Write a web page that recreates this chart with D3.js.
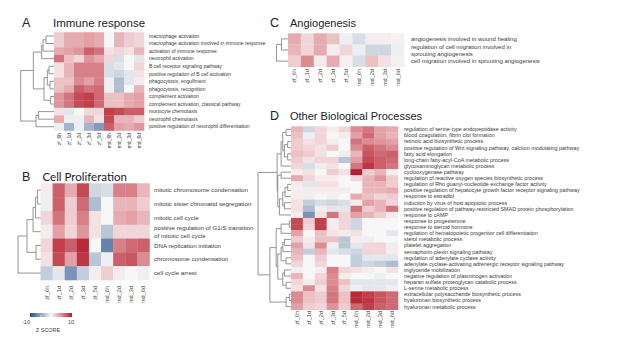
<!DOCTYPE html>
<html>
<head>
<meta charset="utf-8">
<script src="https://cdn.jsdelivr.net/npm/d3@7"></script>
<style>
  body { margin: 0; background: #fff; }
  svg { display: block; }
  text { font-family: "Liberation Sans", Arial, sans-serif; fill: #333; }
</style>
</head>
<body>
<svg id="chart" width="617" height="350"></svg>
<script>
// sample columns shared by every heatmap
const samples = ["zf_6h", "zf_1d", "zf_2d", "zf_3d", "zf_5d", "md_6h", "md_2d", "md_3d", "md_6d"];

// A) Immune response
const immuneTerms = [
  "macrophage activation",
  "macrophage activation involved in immune response",
  "activation of immune response",
  "neutrophil activation",
  "B cell receptor signaling pathway",
  "positive regulation of B cell activation",
  "phagocytosis, engulfment",
  "phagocytosis, recognition",
  "complement activation",
  "complement activation, classical pathway",
  "monocyte chemotaxis",
  "neutrophil chemotaxis",
  "positive regulation of neutrophil differentiation"
];
const immuneZ = [
  [2, 3.5, 3.5, 4, 3.5, 0, 3, 2, 1.5],
  [2, 3.5, 3.5, 4, 3.5, 0, 3, 2, 1.5],
  [3.5, 4, 4.5, 7, 6, 1, 1.5, 1, 3],
  [6, 2.5, 1.5, 4.5, 3.5, 1.5, -1.5, 0, -1],
  [1, 3, 5.5, 5.5, 5.5, -1.5, -1, 0, 1.5],
  [1, 3, 5.5, 5.5, 5.5, -1.5, -2, -1, 1],
  [2.5, 2.5, 5, 4, 5.5, -0.5, -3.5, -1, 0.5],
  [2.5, 3.5, 7, 6, 6.5, -0.5, -3.5, 0, 3],
  [4.5, 6, 8, 8.5, 6.5, 2.5, 2.5, 3.5, 4],
  [4.5, 6, 8, 8.5, 6.5, 2.5, 2.5, 3.5, 4],
  [1, -1, 0, 1.5, 1.5, 8.5, 8, 7, 7],
  [3.5, -0.5, -0.5, 3, 1, 8, 3, 3, 2],
  [-0.5, -4, -0.5, -4, -5.5, 7, 4, 3.5, 4.5]
];

// B) Cell proliferation
const prolifTerms = [
  "mitotic chromosome condensation",
  "mitotic sister chromatid segregation",
  "mitotic cell cycle",
  "positive regulation of G1/S transition\nof mitotic cell cycle",
  "DNA replication initiation",
  "chromosome condensation",
  "cell cycle arrest"
];
const prolifZ = [
  [0.5, 7, 3.5, 8, -2, -1.5, 5.5, 5.5, 3],
  [-0.5, 7, 2, 6.5, -3.5, 0, 3, 3, 2],
  [1.5, 6, 2, 5.5, 1, 0, 3.5, 4, 3],
  [0.5, 4, 1.5, 4.5, 1, -3, 1.5, 1.5, 1.5],
  [1.5, 8.5, 7, 9.5, 0, -7, 5.5, 6.5, 7],
  [1, 8, 4, 9, -3, -0.5, 7, 7.5, 5],
  [-2.5, -1, -6, -2.5, 0.5, 2, 0.5, 0, -0.5]
];

// C) Angiogenesis
const angioTerms = [
  "angiogenesis involved in wound healing",
  "regulation of cell migration involved in\nsprouting angiogenesis",
  "cell migration involved in sprouting angiogenesis"
];
const angioZ = [
  [3.5, 1.5, 3.5, 2.5, -0.5, -1.5, 0.5, 0.5, 0.3],
  [3, 1.5, 3.5, 0.5, 1.5, -0.5, -2, -2, -0.5],
  [2, 5, 0.5, 3.5, 0.3, -1.5, 2.5, 1, 0.3]
];

// D) Other biological processes
const otherTerms = [
  "regulation of serine-type endopeptidase activity",
  "blood coagulation, fibrin clot formation",
  "retinoic acid biosynthetic process",
  "positive regulation of Wnt signaling pathway, calcium modulating pathway",
  "fatty acid elongation",
  "long-chain fatty-acyl-CoA metabolic process",
  "glycosaminoglycan metabolic process",
  "cyclooxygenase pathway",
  "regulation of reactive oxygen species biosynthetic process",
  "regulation of Rho guanyl-nucleotide exchange factor activity",
  "positive regulation of hepatocyte growth factor receptor signaling pathway",
  "response to estradiol",
  "induction by virus of host apoptotic process",
  "positive regulation of pathway-restricted SMAD protein phosphorylation",
  "response to cAMP",
  "response to progesterone",
  "response to steroid hormone",
  "regulation of hematopoietic progenitor cell differentiation",
  "sterol metabolic process",
  "platelet aggregation",
  "semaphorin-plexin signaling pathway",
  "regulation of adenylate cyclase activity",
  "adenylate cyclase-activating adrenergic receptor signaling pathway",
  "triglyceride mobilization",
  "negative regulation of plasminogen activation",
  "heparan sulfate proteoglycan catabolic process",
  "L-serine metabolic process",
  "extracellular polysaccharide biosynthetic process",
  "hyaluronan biosynthetic process",
  "hyaluronan metabolic process"
];
const otherZ = [
  [3, -2, 1.5, 0.5, 1.5, 5, 6, 4, 3.5],
  [2.5, -0.5, 1.5, 0, 0.5, 4, 6.5, 4, 3],
  [2, 1, 1.5, 0.5, 0, 6, 5, 4.5, 4],
  [2, 1.5, 1, 2, 0, 5, 7, 6, 5],
  [2.5, 2, 1, 0, 0.5, 3, 7.5, 6.5, 7],
  [2, 1, 1.5, 1.5, -3, 4, 8, 7, 6.5],
  [1.5, -1.5, 0.5, 1, 0, 6, 9, 7, 6],
  [0.5, 1, 0, 2, 1, 10, 2, 3, 0.5],
  [3.5, 1.5, 0.5, 0.5, 0, 1.5, 3, 4.5, 2],
  [0.5, -1, 1, 1, 0, 0, 3, 3, 2],
  [0.5, 0.5, 0.5, 0.5, 0.5, 0, 3, 3, 3.5],
  [0.5, 0.5, 0, 0.5, 0, 3.5, 2.5, 1.5, 2],
  [1, -2.5, -1.5, -2, -1.5, 0.5, 4, 3, 1.5],
  [1, -3.5, 0.5, -1, -1, 6, 2, 3, 6],
  [0.5, -6, 1, 6, 1.5, 4, 3, 2, 0.5],
  [8, 2, 8.5, 0.5, 1.5, -2, 0, 0, 0],
  [8, 1.5, 8.5, 0.5, 1.5, -2, 0, 0, 0],
  [4, 0, 2.5, 1, 0.5, 1, 0, 0, -1],
  [2, 0.5, 2.5, 2.5, -3, 0.5, -0.5, 0, 0],
  [4, 1, 5, -0.5, -3, -1, 1.5, 1.5, 0.5],
  [3, -2.5, 3, -1, -1.5, -2, 1.5, 1.5, 0.5],
  [2.5, 0, 2, 0, 0, -2.5, -1, -1, -1],
  [1.5, 0, 1.5, 0, 0, -2.5, -2, -2.5, -3.5],
  [0.5, 0, 0.5, 5.5, 1.5, 1, 0.5, 0, 1],
  [3, 0, 1.5, 5, 0.5, 0, 0, -0.5, 0],
  [1.5, 0.5, 2, 5, 2.5, -1, -1, -1, -1],
  [1, 5, 1, 5.5, 1.5, -0.5, -1, -1, -0.5],
  [5, 2.5, 2, 6, 2.5, 9.5, 8.5, 7.5, 6.5],
  [5, 2.5, 2, 6, 2.5, 9.5, 9, 7.5, 6.5],
  [4, 2, 1.5, 4.5, 2, 6.5, 8.5, 7, 6.5]
];

// row dendrograms: N(height, ...children), leaves are row indices
const N = (h, ...c) => ({ h, c });
const immuneTree = N(1,
  N(0.62,
    N(0.37, N(0.33, N(0.24, 0, 1), 2), 3),
    N(0.3, N(0.2, N(0.15, 4, 5), N(0.12, 6, 7)), N(0.1, 8, 9))),
  N(0.54, N(0.47, 10, 11), 12));
const prolifTree = N(1,
  N(0.6, N(0.33, N(0.22, N(0.13, 0, 1), 2), 3), N(0.2, 4, 5)),
  6);
const angioTree = N(1, N(0.57, 0, 1), 2);
const otherTree = N(1,
  N(0.42,
    N(0.3, N(0.25, N(0.15, 0, 1), N(0.2, N(0.1, 2, 3), N(0.1, 4, 5))), 6),
    N(0.4, N(0.3, 7, 8),
      N(0.35, N(0.25, N(0.18, N(0.1, 9, 10), 11), N(0.2, 12, 13)), 14))),
  N(0.64,
    N(0.45,
      N(0.3, N(0.05, 15, 16), 17),
      N(0.4,
        N(0.3, N(0.25, N(0.2, 18, 19), 20), N(0.15, 21, 22)),
        N(0.25, N(0.2, 23, 24), N(0.15, 25, 26)))),
    N(0.15, N(0.05, 27, 28), 29)));

const svg = d3.select("#chart");
const color = d3.scaleLinear()
  .domain([-10, 0, 4, 10])
  .range(["#24528a", "#f8f7f7", "#e3a0a6", "#b41f2d"])
  .clamp(true);

function drawPanel(p) {
  const g = svg.append("g");
  const x = d3.scaleBand().domain(samples).range([p.x0, p.x1]);
  const y = d3.scaleBand().domain(d3.range(p.terms.length)).range([p.y0, p.y1]);

  // titles
  g.append("text").attr("x", p.letterX).attr("y", p.titleY)
    .style("font-size", "12.5px").style("fill", "#222").text(p.letter);
  g.append("text").attr("x", p.titleX).attr("y", p.titleY)
    .style("font-size", p.titleSize + "px").style("fill", "#222")
    .style("font-family", p.titleFont || null)
    .text(p.title);

  // cells
  const cells = p.z.flatMap((row, r) => row.map((v, c) => ({ r, c, v })));
  g.selectAll("rect.cell").data(cells).enter().append("rect")
    .attr("class", "cell")
    .attr("x", d => x(samples[d.c]))
    .attr("y", d => y(d.r))
    .attr("width", x.bandwidth() + 0.3)
    .attr("height", y.bandwidth() + 0.3)
    .attr("fill", d => color(d.v));

  // row labels
  const rl = g.selectAll("text.row").data(p.terms).enter().append("text")
    .attr("class", "row")
    .attr("x", p.x1 + p.gap)
    .attr("y", (d, i) => y(i) + y.bandwidth() / 2)
    .style("font-size", p.labelSize + "px")
    .style("fill", "#3a3a3a");
  rl.each(function(d) {
    const lines = d.split("\n");
    const lh = p.labelSize * 1.2;
    d3.select(this).selectAll("tspan").data(lines).enter().append("tspan")
      .attr("x", p.x1 + p.gap)
      .attr("dy", (l, i) => i === 0 ? (0.35 * p.labelSize - (lines.length - 1) * lh / 2) : lh)
      .text(l => l);
  });

  // column labels
  g.selectAll("text.col").data(samples).enter().append("text")
    .attr("class", "col")
    .attr("transform", d => `translate(${x(d) + x.bandwidth() / 2},${p.colY}) rotate(-90)`)
    .attr("dy", "0.35em")
    .attr("text-anchor", "end")
    .style("font-size", p.colSize + "px")
    .style("fill", "#444")
    .text(d => d);

  // dendrogram
  const root = d3.hierarchy(p.tree, d => d.c);
  const hx = d3.scaleLinear().domain([0, 1]).range([p.x0, p.rootX]);
  root.eachAfter(n => {
    if (n.children) {
      n.py = (n.children[0].py + n.children[n.children.length - 1].py) / 2;
      n.px = hx(n.data.h);
    } else {
      n.py = y(n.data) + y.bandwidth() / 2;
      n.px = p.x0;
    }
  });
  g.selectAll("path.link").data(root.links()).enter().append("path")
    .attr("class", "link")
    .attr("d", l => `M${l.source.px},${l.source.py}V${l.target.py}H${l.target.px}`)
    .attr("fill", "none")
    .attr("stroke", "#7a7a7a")
    .attr("stroke-width", 0.8);
}

drawPanel({
  letter: "A", title: "Immune response", letterX: 22, titleX: 53, titleY: 27, titleSize: 11.5,
  terms: immuneTerms, z: immuneZ, tree: immuneTree,
  x0: 54, x1: 144, y0: 32.2, y1: 130.5, rootX: 20.7,
  gap: 5, labelSize: 5, colY: 133, colSize: 5
});
drawPanel({
  letter: "B", title: "Cell Proliferation", letterX: 22, titleX: 42.5, titleY: 181, titleSize: 11.5,
  titleFont: "Lato, 'Open Sans', sans-serif",
  terms: prolifTerms, z: prolifZ, tree: prolifTree,
  x0: 40.5, x1: 149.5, y0: 183.3, y1: 280, rootX: 18,
  gap: 4.5, labelSize: 6.2, colY: 286, colSize: 5.6
});
drawPanel({
  letter: "C", title: "Angiogenesis", letterX: 270, titleX: 290, titleY: 27, titleSize: 11,
  terms: angioTerms, z: angioZ, tree: angioTree,
  x0: 288, x1: 404, y0: 33.3, y1: 66.7, rootX: 276.5,
  gap: 7, labelSize: 6, colY: 69, colSize: 5.6
});
drawPanel({
  letter: "D", title: "Other Biological Processes", letterX: 270, titleX: 290, titleY: 120, titleSize: 11,
  terms: otherTerms, z: otherZ, tree: otherTree,
  x0: 291, x1: 398, y0: 126.3, y1: 309.7, rootX: 258,
  gap: 6, labelSize: 5.4, colY: 311, colSize: 5.6
});

// colour key
const keyScale = d3.scaleLinear().domain([-10, 10]).range([30, 72]);
const defs = svg.append("defs");
const grad = defs.append("linearGradient").attr("id", "zgrad");
grad.selectAll("stop").data(d3.range(-10, 10.01, 2)).enter().append("stop")
  .attr("offset", d => (d + 10) / 20)
  .attr("stop-color", d => color(d));
const key = svg.append("g");
key.append("rect").attr("x", keyScale(-10)).attr("y", 313)
  .attr("width", keyScale(10) - keyScale(-10)).attr("height", 4)
  .attr("fill", "url(#zgrad)");
key.selectAll("line.tick").data([-5, 0, 5]).enter().append("line")
  .attr("x1", d => keyScale(d)).attr("x2", d => keyScale(d))
  .attr("y1", 315.5).attr("y2", 317)
  .attr("stroke", "#fff").attr("stroke-width", 0.6);
key.selectAll("text.kl").data([-10, 10]).enter().append("text")
  .attr("x", d => keyScale(d) + (d < 0 ? -4 : -1))
  .attr("y", 324)
  .attr("text-anchor", "middle")
  .style("font-size", "5.5px").style("fill", "#444")
  .text(d => d);
key.append("text").attr("x", 48).attr("y", 332).attr("text-anchor", "middle")
  .style("font-size", "5.5px").style("fill", "#444").text("Z SCORE");
</script>
</body>
</html>
